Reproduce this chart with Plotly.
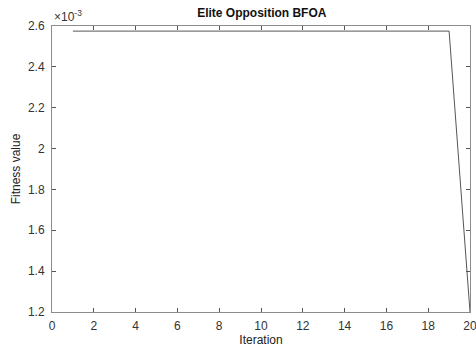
import plotly.graph_objects as go

iterations = list(range(1, 21))
fitness = [2.575e-3] * 19 + [1.2e-3]
x_ticks = [0, 2, 4, 6, 8, 10, 12, 14, 16, 18, 20]
y_ticks = [1.2e-3, 1.4e-3, 1.6e-3, 1.8e-3, 2.0e-3, 2.2e-3, 2.4e-3, 2.6e-3]
y_labels = ["1.2", "1.4", "1.6", "1.8", "2", "2.2", "2.4", "2.6"]

font = "Liberation Sans, Arial, sans-serif"
fig = go.Figure()
fig.add_trace(go.Scatter(x=iterations, y=fitness, mode="lines",
                         line=dict(color="#555555", width=1), showlegend=False))

axis_common = dict(showgrid=False, zeroline=False, showline=True, linecolor="#8c8c8c",
                   linewidth=1, mirror="ticks", ticks="inside", ticklen=4,
                   tickcolor="#555555", ticklabeloverflow="allow", automargin=False,
                   tickfont=dict(family=font, size=12, color="#333333"))
fig.update_xaxes(range=[0, 20], tickvals=x_ticks, ticklabelstandoff=3,
                 title=dict(text="Iteration", standoff=2,
                 font=dict(family=font, size=12, color="#222222")), **axis_common)
fig.update_yaxes(range=[1.2e-3, 2.6e-3], tickvals=y_ticks, ticktext=y_labels,
                 ticklabelstandoff=4,
                 title=dict(text="Fitness value", standoff=4,
                 font=dict(family=font, size=12, color="#222222")), **axis_common)

fig.update_layout(
    width=476, height=347,
    margin=dict(l=52, r=6, t=26, b=35),
    paper_bgcolor="white", plot_bgcolor="white",
    title=dict(text="<b>Elite Opposition BFOA</b>", x=0.55, xanchor="center", y=0.975,
               yanchor="top", font=dict(family=font, size=12, color="#111111")),
    annotations=[dict(text="×10<sup>-3</sup>", xref="paper", yref="paper", x=0, y=1,
                      xanchor="left", yanchor="bottom", showarrow=False,
                      font=dict(family=font, size=12, color="#333333"))],
)
fig.write_html("out.html")
